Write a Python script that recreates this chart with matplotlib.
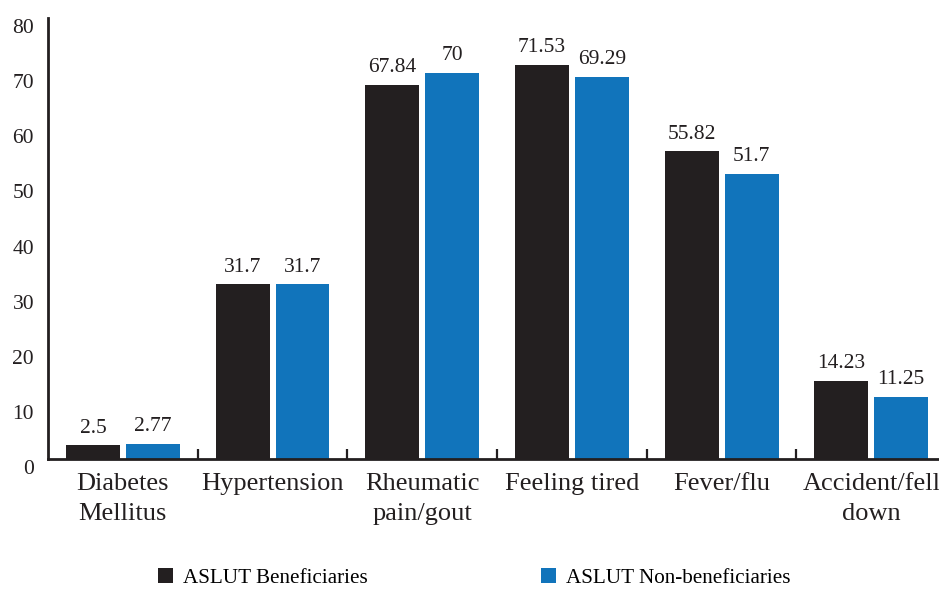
import matplotlib.pyplot as plt
import matplotlib.transforms as mtransforms
import numpy as np

categories = ["Diabetes\nMellitus", "Hypertension", "Rheumatic\npain/gout",
              "Feeling tired", "Fever/flu", "Accident/fell\ndown"]
beneficiaries = [2.5, 31.7, 67.84, 71.53, 55.82, 14.23]
non_beneficiaries = [2.77, 31.7, 70, 69.29, 51.7, 11.25]
series_names = ["ASLUT Beneficiaries", "ASLUT Non-beneficiaries"]

plt.rcParams['font.family'] = ['Liberation Serif', 'DejaVu Serif']
dark = '#231f20'
blue = '#1174bb'

fig = plt.figure(figsize=(9.39, 5.9), dpi=100)
ax = fig.add_axes([0.0511, 0.222, 0.9489, 0.7475])

x = np.arange(len(categories))
w = 0.36
b1 = ax.bar(x - 0.2, beneficiaries, w, color=dark, label=series_names[0])
b2 = ax.bar(x + 0.2, non_beneficiaries, w, color=blue, label=series_names[1])

for bars, vals in ((b1, beneficiaries), (b2, non_beneficiaries)):
    for rect, v in zip(bars, vals):
        ax.annotate(f"{v:g}", (rect.get_x() + rect.get_width() / 2, v),
                    xytext=(0, 5.5), textcoords='offset points',
                    ha='center', va='bottom', fontsize=15.5, color=dark)

ax.set_xlim(-0.5, 5.452)
ax.set_ylim(0, 80)
ax.set_yticks(range(0, 81, 10))
ax.tick_params(axis='y', length=0, pad=10, labelsize=15.5, labelcolor=dark)

# category labels centred, separator ticks between groups
ax.set_xticks(x)
ax.set_xticklabels(categories, fontsize=19, color=dark, linespacing=1.5)
ax.tick_params(axis='x', which='major', length=0, pad=10)
ax.set_xticks(x[:-1] + 0.5, minor=True)
ax.tick_params(axis='x', which='minor', direction='in', length=7,
               width=1.6, color=dark)

# nudge y labels down a touch
shift = mtransforms.ScaledTranslation(0, -8 / 100, fig.dpi_scale_trans)
for lbl in ax.get_yticklabels():
    lbl.set_transform(lbl.get_transform() + shift)

for side in ('top', 'right'):
    ax.spines[side].set_visible(False)
for side in ('left', 'bottom'):
    ax.spines[side].set_linewidth(2)
    ax.spines[side].set_color(dark)

fig.legend(handles=[b1, b2], loc='center', bbox_to_anchor=(0.505, 0.02),
           ncol=2, frameon=False, fontsize=15.2, handlelength=0.72,
           handleheight=0.72, handletextpad=0.48, columnspacing=8.2)

fig.savefig('out.png', dpi=100)
